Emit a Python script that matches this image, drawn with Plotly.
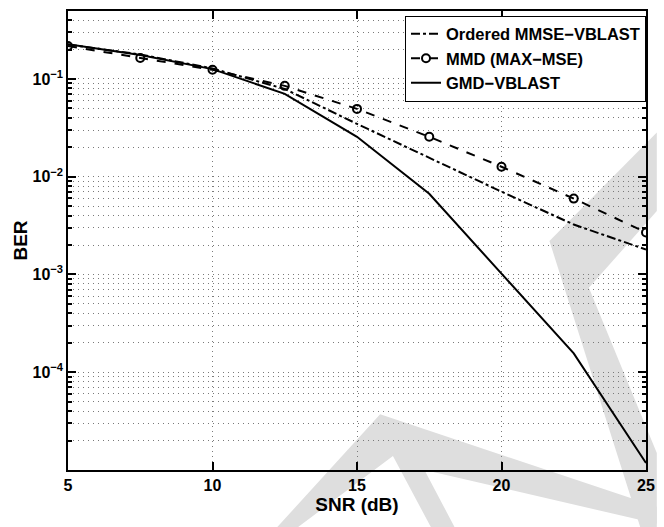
import plotly.graph_objects as go

snr = [5, 7.5, 10, 12.5, 15, 17.5, 20, 22.5, 25]
ber_mmse_vblast = [0.225, 0.178, 0.128, 0.079, 0.0347, 0.0156, 0.00703, 0.00324, 0.0018]
ber_mmd = [0.217, 0.164, 0.124, 0.085, 0.0494, 0.0256, 0.01265, 0.00597, 0.00269]
ber_gmd = [0.227, 0.176, 0.126, 0.0703, 0.0256, 0.0067, 0.00102, 0.000156, 0.0000118]

names = ["Ordered MMSE\u2212VBLAST", "MMD (MAX\u2212MSE)", "GMD\u2212VBLAST"]
y_ticks = [1e-1, 1e-2, 1e-3, 1e-4]
y_ticktext = ["10<sup>\u22121</sup>", "10<sup>\u22122</sup>", "10<sup>\u22123</sup>", "10<sup>\u22124</sup>"]
x_ticks = [5, 10, 15, 20, 25]

W, H = 664, 527
L, R, T, B = 68, 9, 9, 57

fig = go.Figure()
fig.add_trace(go.Scatter(x=snr, y=ber_mmse_vblast, mode="lines", name=names[0],
                         line=dict(color="black", width=2, dash="dashdot")))
fig.add_trace(go.Scatter(x=snr, y=ber_mmd, mode="lines+markers", name=names[1],
                         line=dict(color="black", width=2, dash="dash"),
                         marker=dict(symbol="circle-open", size=8, color="black",
                                     line=dict(width=2, color="black"))))
fig.add_trace(go.Scatter(x=snr, y=ber_gmd, mode="lines", name=names[2],
                         line=dict(color="black", width=2)))

# light grey watermark (decoration, pixel outline converted to paper coords)
pw, ph = W - L - R, H - T - B
def to_paper(p):
    return (p[0] - L) / pw, (H - B - p[1]) / ph

watermark = [
    [(278, 530), (385, 414), (666, 507), (666, 524), (430, 470), (462, 530),
     (438, 530), (398, 456), (298, 530)],
    [(557, 240), (666, 131), (666, 210), (597, 287), (666, 453), (666, 530), (650, 530)],
]
for poly in watermark:
    pts = [to_paper(p) for p in poly]
    path = "M " + " L ".join(f"{x:.4f},{y:.4f}" for x, y in pts) + " Z"
    fig.add_shape(type="path", xref="paper", yref="paper", path=path,
                  fillcolor="#dedede", line=dict(width=0), layer="below")

grid_dash = "1px,4px"
axis_common = dict(showline=True, linecolor="black", linewidth=1.5, mirror="ticks",
                   ticks="inside", tickcolor="black", tickwidth=1.5,
                   showgrid=True, gridcolor="#7a7a7a", griddash=grid_dash, gridwidth=1,
                   zeroline=False, tickfont=dict(size=16, color="black"))

fig.update_xaxes(range=[5, 25], tickvals=x_ticks, ticklen=8,
                 title=dict(text="SNR (dB)", font=dict(size=19, color="black"), standoff=2),
                 **axis_common)
fig.update_yaxes(type="log", range=[-5.0, -0.305], tickvals=y_ticks, ticktext=y_ticktext, ticklen=8,
                 title=dict(text="BER", font=dict(size=19, color="black"), standoff=0),
                 minor=dict(dtick="D1", ticks="inside", ticklen=4, tickcolor="black",
                            showgrid=True, gridcolor="#7a7a7a", griddash=grid_dash, gridwidth=1),
                 **axis_common)

fig.update_layout(
    width=W, height=H,
    margin=dict(l=L, r=R, t=T, b=B),
    paper_bgcolor="white", plot_bgcolor="rgba(0,0,0,0)",
    font=dict(family="Liberation Sans, Arial, sans-serif", size=16, color="black", weight="bold"),
    showlegend=True,
    legend=dict(x=1.0, y=0.99, xanchor="right", yanchor="top",
                bgcolor="white", bordercolor="black", borderwidth=1,
                font=dict(size=16.5, color="black"), itemwidth=30,
                tracegroupgap=0),
)

fig.write_html("out.html")
